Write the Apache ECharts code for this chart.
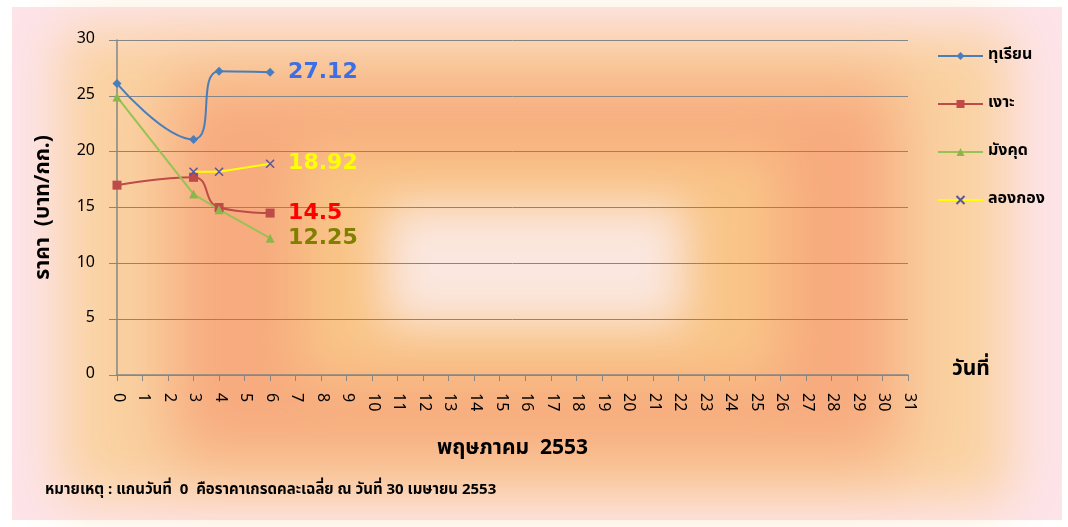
<!DOCTYPE html>
<html>
<head>
<meta charset="utf-8">
<script src="https://cdn.jsdelivr.net/npm/echarts@6/dist/echarts.min.js"></script>
<style>
  html, body { margin: 0; padding: 0; background: #fff; }
  #main { width: 1068px; height: 527px; }
</style>
</head>
<body>
<div id="main"></div>
<script>
// days of May 2553 (day 0 = average price on 30 April)
const days = Array.from({ length: 32 }, (_, i) => String(i));

const durian = { 0: 26.1, 3: 21.1, 4: 27.2, 6: 27.12 };
const rambutan = { 0: 17.0, 3: 17.7, 4: 15.0, 6: 14.5 };
const mangosteen = { 0: 24.9, 3: 16.2, 4: 14.8, 6: 12.25 };
const longkong = { 3: 18.2, 4: 18.2, 6: 18.92 };

const toSeries = (obj) => days.map((d) => (obj[d] !== undefined ? obj[d] : null));

const FONT = "Tahoma, 'Noto Sans Thai', 'Noto Sans', sans-serif";

const chart = echarts.init(document.getElementById("main"));

// soft blurred rectangle: the shape is drawn off screen, only its shadow shows
const blob = (x, y, w, h, color, blur) => ({
  type: "rect",
  silent: true,
  z: -100,
  shape: { x: x - 3000, y: y, width: w, height: h },
  style: { fill: color, shadowBlur: blur, shadowColor: color, shadowOffsetX: 3000 },
});

const endLabel = (color) => ({
  show: true,
  formatter: "{c}",
  distance: 18,
  color: color,
  fontSize: 22,
  fontWeight: "bold",
  fontFamily: "Verdana, 'DejaVu Sans', sans-serif",
});

const option = {
  animation: false,
  textStyle: { fontFamily: FONT },
  graphic: [
    { type: "rect", silent: true, z: -101, shape: { x: 12, y: 7, width: 1050, height: 513 }, style: { fill: "#fde4ea" } },
    blob(60, 30, 950, 470, "#fad2a2", 50),
    blob(170, 80, 730, 380, "#f7ab7e", 60),
    blob(300, 150, 480, 230, "#f9c588", 50),
    blob(385, 205, 300, 120, "#fbe7df", 45),
    {
      type: "text",
      left: 952,
      top: 360,
      style: { text: "วันที่", font: "bold 21px " + FONT, fill: "#000" },
    },
    {
      type: "text",
      left: 45,
      top: 483,
      style: {
        text: "หมายเหตุ : แกนวันที่  0  คือราคาเกรดคละเฉลี่ย ณ วันที่ 30 เมษายน 2553",
        font: "bold 15px " + FONT,
        fill: "#000",
      },
    },
  ],
  grid: { left: 117, right: 160, top: 40, bottom: 152 },
  legend: {
    orient: "vertical",
    left: 932,
    top: 43,
    itemGap: 32,
    itemWidth: 45,
    itemHeight: 10,
    textStyle: { fontSize: 16, fontWeight: "bold", color: "#000", fontFamily: FONT },
    data: ["ทุเรียน", "เงาะ", "มังคุด", "ลองกอง"],
  },
  xAxis: {
    type: "category",
    data: days,
    boundaryGap: false,
    name: "พฤษภาคม  2553",
    nameLocation: "middle",
    nameGap: 64,
    nameTextStyle: { fontSize: 21, fontWeight: "bold", color: "#000", fontFamily: FONT },
    axisLine: { lineStyle: { color: "#868686", width: 1.5 } },
    axisTick: { show: true, interval: 0, length: 6, lineStyle: { color: "#868686" } },
    axisLabel: { interval: 0, rotate: -90, margin: 18, fontSize: 16, color: "#000" },
    splitLine: { show: false },
  },
  yAxis: {
    type: "value",
    min: 0,
    max: 30,
    interval: 5,
    name: "ราคา  (บาท/กก.)",
    nameLocation: "middle",
    nameGap: 62,
    nameRotate: 90,
    nameTextStyle: { fontSize: 21, fontWeight: "bold", color: "#000", fontFamily: FONT },
    axisLine: { show: true, lineStyle: { color: "#868686", width: 1.5 } },
    axisTick: { show: true, length: 8, inside: false, lineStyle: { color: "#868686" } },
    axisLabel: { margin: 22, fontSize: 16, color: "#000" },
    splitLine: { lineStyle: { color: "#868686", width: 1 } },
  },
  series: [
    {
      name: "ทุเรียน",
      type: "line",
      data: toSeries(durian),
      connectNulls: true,
      smooth: 0.5,
      symbol: "diamond",
      symbolSize: 9,
      itemStyle: { color: "#4a7ebb" },
      lineStyle: { color: "#4a7ebb", width: 2 },
      endLabel: endLabel("#3c6fe6"),
    },
    {
      name: "เงาะ",
      type: "line",
      data: toSeries(rambutan),
      connectNulls: true,
      smooth: 0.5,
      symbol: "rect",
      symbolSize: 9,
      itemStyle: { color: "#be4b48" },
      lineStyle: { color: "#be4b48", width: 2 },
      endLabel: endLabel("#ff0000"),
    },
    {
      name: "มังคุด",
      type: "line",
      data: toSeries(mangosteen),
      connectNulls: true,
      symbol: "triangle",
      symbolSize: 9,
      itemStyle: { color: "#8cb64a" },
      lineStyle: { color: "#98c255", width: 2 },
      endLabel: endLabel("#7f7f00"),
    },
    {
      name: "ลองกอง",
      type: "line",
      data: toSeries(longkong),
      connectNulls: true,
      symbol: "path://M0,0L10,10M10,0L0,10",
      symbolSize: 8,
      itemStyle: { color: "#ffff00", borderColor: "#5a55a0", borderWidth: 1.5 },
      lineStyle: { color: "#ffff00", width: 2 },
      endLabel: endLabel("#ffff00"),
    },
  ],
};

chart.setOption(option);
</script>
</body>
</html>
